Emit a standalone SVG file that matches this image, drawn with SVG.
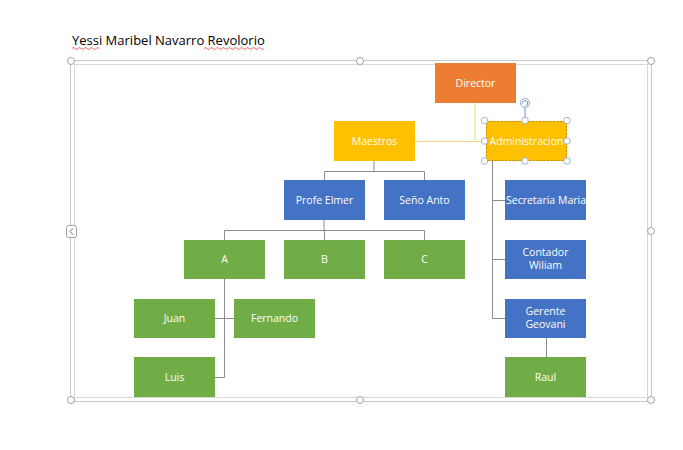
<svg xmlns="http://www.w3.org/2000/svg" width="683" height="450" viewBox="0 0 683 450">
<style>
.t{font-family:"Open Sans","Liberation Sans",sans-serif;font-size:10.5px;fill:#fff;text-anchor:middle}
.o{fill:#ED7D31}
.y{fill:#FFC000}
.b{fill:#4472C4}
.g{fill:#70AD47}
.c{fill:none;stroke:#8c8c8c;stroke-width:1}
.h{fill:#fff;stroke:#a0a0a0;stroke-width:1}
.hs{fill:#fff;stroke:#9db3cf;stroke-width:1}
</style>
<rect width="683" height="450" fill="#fff"/>
<text x="72" y="45" font-family="Open Sans, Liberation Sans, sans-serif" font-size="13" fill="#000">Yessi Maribel Navarro Revolorio</text>
<path d="M72 48.5 q1.5 -2 3 0 t3 0 t3 0 t3 0 t3 0 t3 0 t3 0 t3 0 t3 0 M204 48.5 q1.5 -2 3 0 t3 0 t3 0 t3 0 t3 0 t3 0 t3 0 t3 0 t3 0 t3 0 t3 0 t3 0 t3 0 t3 0 t3 0 t3 0 t3 0 t3 0 t3 0 t3 0" fill="none" stroke="#e04040" stroke-width="0.8"/>
<g id="frame">
<rect x="70.5" y="60.5" width="581" height="341" fill="none" stroke="#c8c8c8"/>
<rect x="74.5" y="64.5" width="573" height="333" fill="none" stroke="#d8d8d8"/>
<circle class="h" cx="71" cy="61" r="3.5"/>
<circle class="h" cx="360" cy="61" r="3.5"/>
<circle class="h" cx="651" cy="61" r="3.5"/>
<circle class="h" cx="651" cy="231" r="3.5"/>
<circle class="h" cx="71" cy="400" r="3.5"/>
<circle class="h" cx="360" cy="400" r="3.5"/>
<circle class="h" cx="651" cy="400" r="3.5"/>
<rect class="h" x="66.5" y="225.5" width="10" height="12" rx="2"/>
<path d="M73 228.5 l-3 3 l3 3" fill="none" stroke="#666" stroke-width="1"/>
</g>
<g id="connectors">
<path d="M475 103 V141.5 H414" fill="none" stroke="#f5d77a" stroke-width="1"/>
<path d="M475 141.5 H485" fill="none" stroke="#f5d77a" stroke-width="1"/>
<path class="c" d="M374 161 V171.5 M324.5 180 V171.5 H424.5 V180"/>
<path class="c" d="M324 220 V230.5 M224.5 240 V230.5 H424.5 V240 M324.5 230.5 V240"/>
<path class="c" d="M224.5 279 V377.5 H215 M215 318.5 H234"/>
<path class="c" d="M492.5 161 V318.5 H505 M492.5 200.5 H505 M492.5 259.5 H505"/>
<path class="c" d="M546.5 338 V357"/>
</g>
<g id="director"><rect class="o" x="435" y="63" width="81" height="40"/><text class="t" x="475.5" y="86.5">Director</text></g>
<g id="maestros"><rect class="y" x="334" y="121" width="81" height="40"/><text class="t" x="374.5" y="144.5">Maestros</text></g>
<g id="administracion"><rect class="y" x="486" y="121" width="81" height="40"/><rect x="486.5" y="121.5" width="80" height="39" fill="none" stroke="#c09000" stroke-dasharray="2,1.5"/><text class="t" x="526.5" y="144.5">Administracion</text>
<line x1="525" y1="107" x2="525" y2="121" stroke="#7a8fb0"/>
<circle cx="525" cy="103" r="4.5" fill="#fff" stroke="#8aa4c8"/>
<path d="M522.5 103.5 a2.6 2.6 0 1 1 3 2.3" fill="none" stroke="#6f8fbf" stroke-width="1"/>
<rect class="hs" x="481.5" y="117.5" width="6" height="6" rx="2"/><rect class="hs" x="522" y="117.5" width="6" height="6" rx="2"/><rect class="hs" x="564" y="117.5" width="6" height="6" rx="2"/>
<rect class="hs" x="481.5" y="138" width="6" height="6" rx="2"/><rect class="hs" x="564" y="138" width="6" height="6" rx="2"/>
<rect class="hs" x="481.5" y="158" width="6" height="6" rx="2"/><rect class="hs" x="522" y="158" width="6" height="6" rx="2"/><rect class="hs" x="564" y="158" width="6" height="6" rx="2"/>
</g>
<g id="profe-elmer"><rect class="b" x="284" y="180" width="81" height="40"/><text class="t" x="324.5" y="203.5">Profe Elmer</text></g>
<g id="seno-anto"><rect class="b" x="384" y="180" width="81" height="40"/><text class="t" x="424.5" y="203.5">Seño Anto</text></g>
<g id="a"><rect class="g" x="184" y="240" width="81" height="39"/><text class="t" x="224.5" y="263">A</text></g>
<g id="b"><rect class="g" x="284" y="240" width="81" height="39"/><text class="t" x="324.5" y="263">B</text></g>
<g id="c"><rect class="g" x="384" y="240" width="81" height="39"/><text class="t" x="424.5" y="263">C</text></g>
<g id="juan"><rect class="g" x="134" y="299" width="81" height="39"/><text class="t" x="174.5" y="322">Juan</text></g>
<g id="fernando"><rect class="g" x="234" y="299" width="81" height="39"/><text class="t" x="274.5" y="322">Fernando</text></g>
<g id="luis"><rect class="g" x="134" y="357" width="81" height="40"/><text class="t" x="174.5" y="380.5">Luis</text></g>
<g id="secretaria-maria"><rect class="b" x="505" y="180" width="81" height="40"/><text class="t" x="546" y="203.5">Secretaria Maria</text></g>
<g id="contador-wiliam"><rect class="b" x="505" y="240" width="81" height="39"/><text class="t" x="545.5" y="256">Contador</text><text class="t" x="545.5" y="269">Wiliam</text></g>
<g id="gerente-geovani"><rect class="b" x="505" y="299" width="81" height="39"/><text class="t" x="545.5" y="315">Gerente</text><text class="t" x="545.5" y="328">Geovani</text></g>
<g id="raul"><rect class="g" x="505" y="357" width="81" height="40"/><text class="t" x="545.5" y="380.5">Raul</text></g>
</svg>
